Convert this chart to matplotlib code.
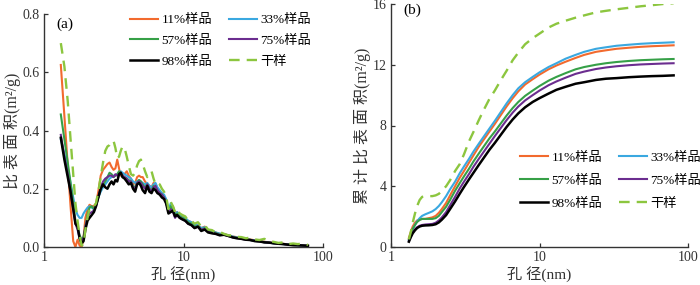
# plot.py
# Pore-size distribution (a) and cumulative specific surface area (b)

import matplotlib
matplotlib.use("Agg")
import matplotlib.pyplot as plt

plt.rcParams["font.family"] = ["Liberation Serif", "Noto Sans CJK SC"]
plt.rcParams["axes.unicode_minus"] = False

# ---- DATA: panel (a) ----
pore_a = [1.32, 1.40, 1.48, 1.55, 1.62, 1.68, 1.74, 1.80, 1.86, 1.92,
          1.98, 2.05, 2.12, 2.20, 2.28, 2.36, 2.45, 2.55, 2.65, 2.75,
          2.85, 2.95, 3.05, 3.15, 3.25, 3.35, 3.45, 3.55, 3.65, 3.78,
          3.92, 4.05, 4.2, 4.35, 4.5, 4.65, 4.8, 4.95, 5.1, 5.3,
          5.5, 5.7, 5.9, 6.1, 6.3, 6.5, 6.75, 7.0, 7.25, 7.5,
          7.8, 8.1, 8.4, 8.7, 9.0, 9.4, 9.8, 10.3, 10.8, 11.4,
          12.0, 12.7, 13.4, 14.2, 15.0, 16.0, 17.0, 18.2, 19.5, 21,
          22.5, 24, 26, 28, 30, 32.5, 35, 38, 41, 44,
          48, 52, 56, 61, 66, 72, 78]

psd_11 = [0.625, 0.45, 0.28, 0.14, 0.02, 0.0, 0.025, 0.005, 0.0, 0.03,
          0.10, 0.13, 0.145, 0.14, 0.14, 0.15, 0.19, 0.245, 0.265, 0.275,
          0.285, 0.29, 0.275, 0.265, 0.27, 0.30, 0.27, 0.245, 0.25, 0.25,
          0.26, 0.245, 0.235, 0.215, 0.22, 0.24, 0.245, 0.24, 0.24, 0.225,
          0.215, 0.21, 0.205, 0.22, 0.215, 0.20, 0.19, 0.185, 0.175, 0.16,
          0.125, 0.13, 0.14, 0.115, 0.12, 0.11, 0.105, 0.095, 0.09, 0.085,
          0.075, 0.075, 0.065, 0.07, 0.058, 0.055, 0.05, 0.045, 0.045, 0.04,
          0.036, 0.034, 0.03, 0.028, 0.026, 0.023, 0.021, 0.018, 0.016, 0.014,
          0.012, 0.011, 0.009, 0.008, 0.007, 0.006, 0.005]

psd_33 = [0.37, 0.32, 0.27, 0.22, 0.17, 0.13, 0.11, 0.10, 0.10, 0.115,
          0.125, 0.135, 0.14, 0.135, 0.13, 0.145, 0.17, 0.19, 0.205, 0.215,
          0.225, 0.235, 0.24, 0.245, 0.245, 0.25, 0.255, 0.26, 0.255, 0.25,
          0.245, 0.24, 0.235, 0.225, 0.22, 0.225, 0.23, 0.225, 0.22, 0.215,
          0.22, 0.21, 0.205, 0.215, 0.22, 0.205, 0.195, 0.185, 0.18, 0.165,
          0.125, 0.15, 0.13, 0.11, 0.12, 0.11, 0.10, 0.10, 0.09, 0.085,
          0.075, 0.075, 0.065, 0.068, 0.058, 0.054, 0.05, 0.046, 0.044, 0.04,
          0.036, 0.033, 0.03, 0.027, 0.025, 0.022, 0.02, 0.017, 0.015, 0.013,
          0.011, 0.01, 0.009, 0.007, 0.006, 0.005, 0.004]

psd_57 = [0.455, 0.37, 0.29, 0.22, 0.15, 0.09, 0.07, 0.04, 0.025, 0.035,
          0.07, 0.11, 0.135, 0.14, 0.13, 0.145, 0.17, 0.20, 0.215, 0.225,
          0.24, 0.255, 0.25, 0.24, 0.245, 0.25, 0.26, 0.255, 0.245, 0.24,
          0.235, 0.23, 0.225, 0.21, 0.205, 0.22, 0.23, 0.225, 0.215, 0.205,
          0.215, 0.20, 0.195, 0.21, 0.205, 0.195, 0.185, 0.18, 0.17, 0.155,
          0.12, 0.14, 0.125, 0.11, 0.115, 0.105, 0.10, 0.095, 0.085, 0.08,
          0.07, 0.072, 0.06, 0.065, 0.055, 0.052, 0.048, 0.043, 0.043, 0.038,
          0.034, 0.032, 0.028, 0.026, 0.024, 0.021, 0.019, 0.016, 0.015, 0.013,
          0.011, 0.01, 0.008, 0.007, 0.006, 0.005, 0.004]

psd_75 = [0.385, 0.31, 0.25, 0.19, 0.13, 0.08, 0.06, 0.03, 0.02, 0.03,
          0.07, 0.10, 0.115, 0.12, 0.125, 0.14, 0.17, 0.205, 0.225, 0.235,
          0.24, 0.245, 0.245, 0.24, 0.25, 0.245, 0.25, 0.255, 0.245, 0.24,
          0.235, 0.225, 0.225, 0.205, 0.20, 0.22, 0.225, 0.22, 0.21, 0.20,
          0.215, 0.20, 0.19, 0.205, 0.21, 0.195, 0.185, 0.18, 0.17, 0.155,
          0.12, 0.13, 0.12, 0.10, 0.11, 0.10, 0.095, 0.09, 0.08, 0.075,
          0.065, 0.07, 0.06, 0.062, 0.052, 0.048, 0.046, 0.041, 0.042, 0.037,
          0.033, 0.031, 0.028, 0.025, 0.024, 0.021, 0.019, 0.016, 0.015, 0.013,
          0.011, 0.01, 0.008, 0.007, 0.006, 0.005, 0.004]

psd_98 = [0.375, 0.30, 0.24, 0.19, 0.13, 0.08, 0.07, 0.03, 0.012, 0.02,
          0.06, 0.09, 0.10, 0.11, 0.12, 0.14, 0.17, 0.20, 0.215, 0.205,
          0.20, 0.215, 0.225, 0.215, 0.23, 0.225, 0.25, 0.255, 0.24, 0.235,
          0.225, 0.215, 0.22, 0.20, 0.19, 0.215, 0.22, 0.21, 0.195, 0.185,
          0.21, 0.19, 0.185, 0.20, 0.195, 0.185, 0.18, 0.17, 0.165, 0.15,
          0.115, 0.12, 0.125, 0.105, 0.11, 0.10, 0.095, 0.09, 0.08, 0.075,
          0.065, 0.07, 0.055, 0.06, 0.05, 0.047, 0.045, 0.04, 0.042, 0.038,
          0.033, 0.03, 0.028, 0.025, 0.024, 0.02, 0.019, 0.016, 0.015, 0.013,
          0.011, 0.010, 0.008, 0.006, 0.006, 0.005, 0.004]

psd_dry = [0.70, 0.62, 0.50, 0.37, 0.25, 0.15, 0.09, 0.04, 0.005, 0.01,
           0.06, 0.10, 0.13, 0.14, 0.14, 0.15, 0.19, 0.24, 0.29, 0.33,
           0.345, 0.35, 0.36, 0.365, 0.34, 0.305, 0.31, 0.33, 0.345, 0.34,
           0.31, 0.28, 0.25, 0.245, 0.255, 0.28, 0.295, 0.30, 0.285, 0.26,
           0.24, 0.25, 0.26, 0.235, 0.215, 0.22, 0.215, 0.20, 0.19, 0.175,
           0.13, 0.155, 0.14, 0.12, 0.13, 0.115, 0.11, 0.105, 0.09, 0.09,
           0.08, 0.085, 0.07, 0.075, 0.06, 0.058, 0.05, 0.052, 0.045, 0.04,
           0.04, 0.035, 0.034, 0.03, 0.032, 0.026, 0.024, 0.028, 0.02, 0.018,
           0.014, 0.016, 0.01, 0.012, 0.01, 0.012, 0.007]

# ---- DATA: panel (b) ----
pore_b = [1.32, 1.36, 1.40, 1.45, 1.5, 1.56, 1.62, 1.7, 1.8, 1.9,
          2.0, 2.1, 2.2, 2.35, 2.5, 2.7, 2.9, 3.1, 3.35, 3.6,
          3.9, 4.2, 4.6, 5.0, 5.5, 6.0, 6.6, 7.2, 8.0, 9.0,
          10, 11.5, 13, 15, 17.5, 20, 24, 28, 33, 40,
          48, 57, 68, 80]

cum_11 = [0.6, 1.0, 1.35, 1.6, 1.75, 1.82, 1.85, 1.85, 1.9, 1.95,
          2.05, 2.25, 2.5, 2.9, 3.4, 4.0, 4.55, 5.0, 5.55, 6.05,
          6.6, 7.05, 7.6, 8.1, 8.7, 9.25, 9.8, 10.25, 10.7, 11.05,
          11.35, 11.7, 11.95, 12.2, 12.45, 12.65, 12.85, 12.95, 13.05, 13.12,
          13.18, 13.22, 13.25, 13.28]

cum_33 = [0.45, 0.8, 1.15, 1.45, 1.7, 1.9, 2.05, 2.15, 2.25, 2.35,
          2.5, 2.7, 2.95, 3.35, 3.8, 4.3, 4.85, 5.3, 5.8, 6.3,
          6.8, 7.25, 7.8, 8.3, 8.9, 9.45, 10.0, 10.45, 10.85, 11.2,
          11.5, 11.85, 12.1, 12.4, 12.65, 12.85, 13.05, 13.15, 13.25, 13.32,
          13.38, 13.42, 13.45, 13.48]

cum_57 = [0.5, 0.85, 1.2, 1.45, 1.65, 1.78, 1.85, 1.85, 1.85, 1.85,
          1.9, 2.05, 2.3, 2.65, 3.1, 3.7, 4.2, 4.65, 5.15, 5.65,
          6.15, 6.6, 7.15, 7.6, 8.15, 8.65, 9.15, 9.55, 9.95, 10.3,
          10.6, 10.95, 11.2, 11.45, 11.7, 11.85, 12.0, 12.1, 12.18, 12.25,
          12.3, 12.33, 12.36, 12.38]

cum_75 = [0.4, 0.7, 0.95, 1.15, 1.3, 1.4, 1.45, 1.48, 1.5, 1.52,
          1.6, 1.75, 1.95, 2.3, 2.75, 3.3, 3.85, 4.3, 4.8, 5.3,
          5.8, 6.25, 6.8, 7.3, 7.85, 8.35, 8.85, 9.25, 9.65, 10.0,
          10.3, 10.65, 10.9, 11.15, 11.4, 11.55, 11.72, 11.82, 11.9, 11.97,
          12.02, 12.05, 12.08, 12.1]

cum_98 = [0.35, 0.65, 0.9, 1.1, 1.25, 1.35, 1.4, 1.42, 1.43, 1.45,
          1.5, 1.62, 1.8, 2.1, 2.5, 3.0, 3.5, 3.95, 4.45, 4.9,
          5.4, 5.85, 6.4, 6.85, 7.4, 7.9, 8.4, 8.8, 9.2, 9.55,
          9.8, 10.1, 10.35, 10.55, 10.75, 10.85, 11.0, 11.08, 11.12, 11.18,
          11.22, 11.25, 11.27, 11.3]

cum_dry = [0.5, 1.0, 1.6, 2.2, 2.7, 3.1, 3.3, 3.35, 3.35, 3.35,
           3.4, 3.5, 3.7, 4.0, 4.4, 5.0, 5.45, 6.1, 6.95, 7.6,
           8.35, 9.0, 9.75, 10.3, 11.0, 11.6, 12.3, 12.8, 13.35, 13.75,
           14.05, 14.45, 14.7, 14.9, 15.1, 15.25, 15.45, 15.55, 15.65, 15.75,
           15.85, 15.92, 16.0, 16.05]

labels = ["11%样品", "33%样品", "57%样品", "75%样品", "98%样品", "干样"]
colors = ["#F26A2E", "#3AA8E0", "#36A047", "#6B2D8F", "#000000", "#8CC63F"]
widths = [1.5, 1.5, 1.5, 1.5, 1.8, 1.7]

# ---- FIGURE ----
fig = plt.figure(figsize=(7, 2.85), dpi=100)
ax1 = fig.add_axes([44 / 700, 38 / 285, 279 / 700, 233 / 285])
ax2 = fig.add_axes([391 / 700, 38 / 285, 297 / 700, 243 / 285])

psd_all = [psd_11, psd_33, psd_57, psd_75, psd_98, psd_dry]
cum_all = [cum_11, cum_33, cum_57, cum_75, cum_98, cum_dry]
# legend fills column-wise, so reorder to read 11/33, 57/75, 98/dry by row
order = [0, 2, 4, 1, 3, 5]
leg_handles = {}

for ax, xs, series in [(ax1, pore_a, psd_all), (ax2, pore_b, cum_all)]:
    handles = []
    for i in range(6):
        style = (0, (4.5, 3)) if i == 5 else "-"
        h, = ax.plot(xs, series[i], color=colors[i], lw=widths[i],
                     linestyle=style, label=labels[i])
        handles.append(h)
    leg_handles[ax] = [handles[k] for k in order]
    ax.set_xscale("log")
    ax.set_xlim(1, 100)
    ax.set_xticks([1, 10, 100])
    ax.set_xticklabels(["1", "10", "100"])
    ax.minorticks_off()
    for s in ["top", "right"]:
        ax.spines[s].set_visible(False)
    for s in ["left", "bottom"]:
        ax.spines[s].set_linewidth(1.0)
        ax.spines[s].set_color("#333333")
    ax.tick_params(direction="in", length=3, width=0.9, labelsize=10,
                   colors="#333333", pad=3)
    ax.set_xlabel("孔 径(nm)", fontsize=11, color="#333333", labelpad=1)

ax1.set_ylim(0, 0.8)
ax1.set_yticks([0, 0.2, 0.4, 0.6, 0.8])
ax1.set_yticklabels(["0.0", "0.2", "0.4", "0.6", "0.8"])
ax1.set_ylabel("比 表 面 积(m²/g)", fontsize=11.5, color="#333333",
               labelpad=1)
ax1.text(0.045, 0.985, "(a)", transform=ax1.transAxes, fontsize=11,
         va="top", ha="left")
ax1.legend(handles=leg_handles[ax1], ncol=2, frameon=False,
           loc="upper right", bbox_to_anchor=(0.99, 1.04), fontsize=9.5,
           handlelength=2.1, handletextpad=0.25, columnspacing=1.3,
           labelspacing=0.65, borderpad=0.2)

ax2.set_ylim(0, 16)
ax2.set_yticks([0, 4, 8, 12, 16])
ax2.set_ylabel("累 计 比 表 面 积(m²/g)", fontsize=11.5, color="#333333",
               labelpad=1)
ax2.text(0.04, 1.0, "(b)", transform=ax2.transAxes, fontsize=11,
         va="top", ha="left")
ax2.legend(handles=leg_handles[ax2], ncol=2, frameon=False,
           loc="upper right", bbox_to_anchor=(1.075, 0.43), fontsize=9.5,
           handlelength=2.1, handletextpad=0.25, columnspacing=1.3,
           labelspacing=0.8, borderpad=0.2)

fig.savefig("out.png", dpi=100)
